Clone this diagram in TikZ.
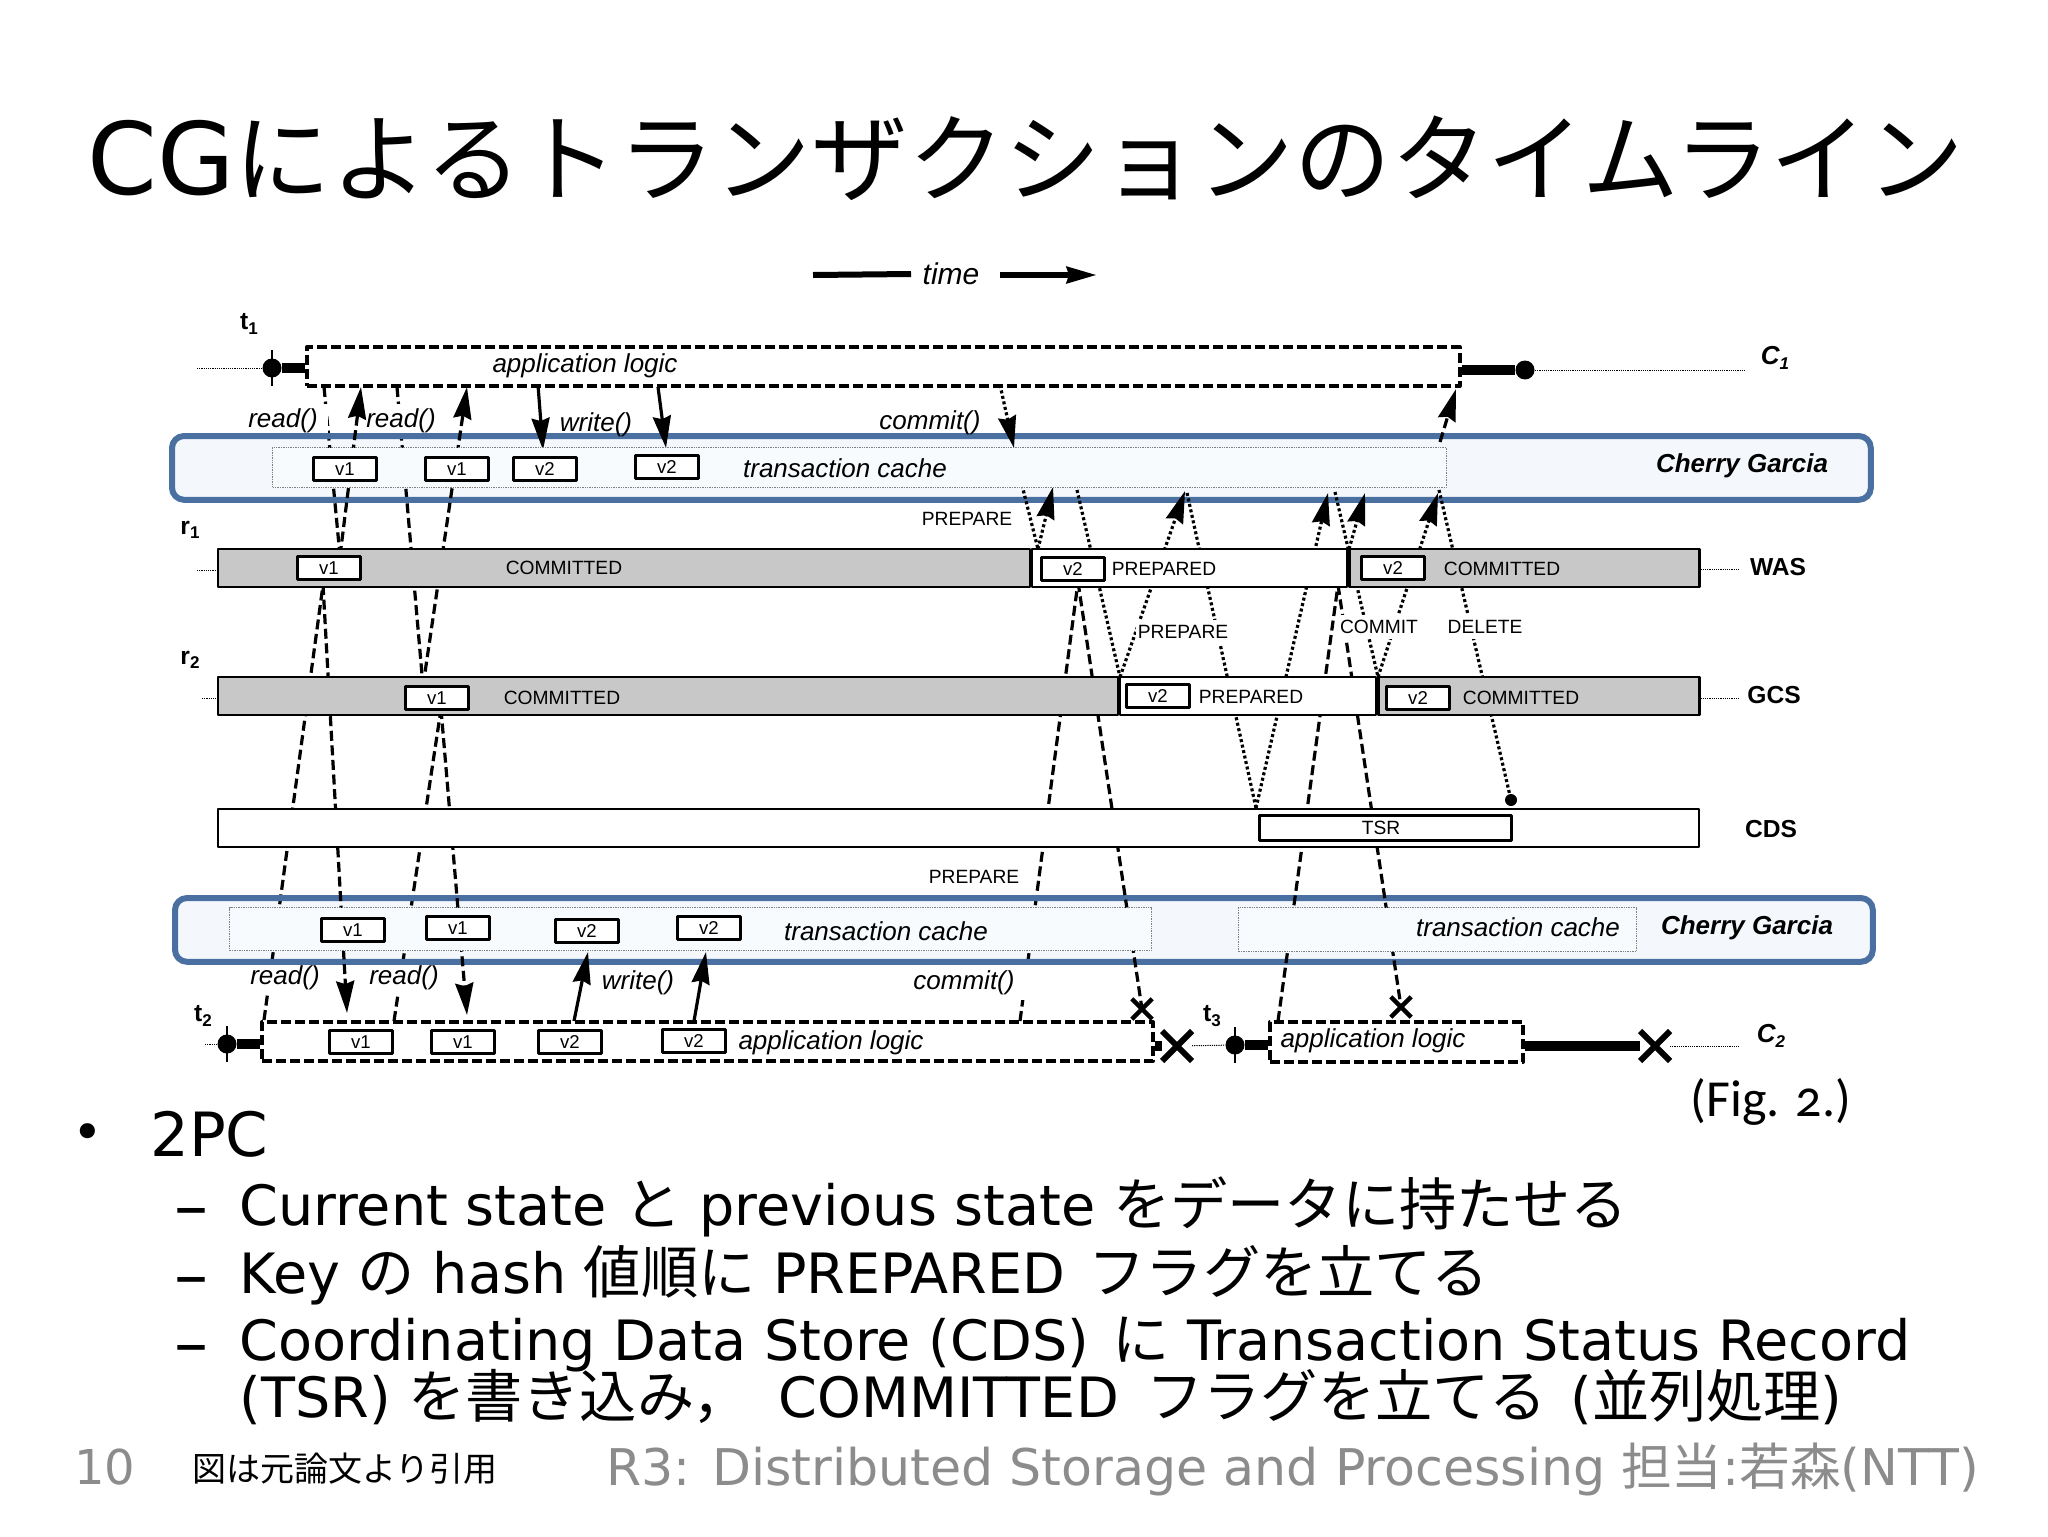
\documentclass[tikz,border=0pt]{standalone}
\usepackage{fontspec}
\usetikzlibrary{arrows.meta,shapes.misc}
\setmainfont{DejaVu Sans}
\newfontfamily\jp{Noto Sans CJK JP}
\newfontfamily\dgm{Liberation Sans}
\newfontfamily\figfont[Numbers=OldStyle]{Carlito}
\definecolor{bandline}{HTML}{4A70A2}
\definecolor{bandfill}{HTML}{F4F8FD}
\definecolor{barfill}{HTML}{C8C8C8}
\definecolor{footgray}{HTML}{8C8C8C}
\newcommand{\fs}[1]{\fontsize{#1}{#1}\selectfont}
\newcommand{\subl}[2]{#1\raisebox{-.35ex}{\fs{8.5}#2}}
\newcommand{\jb}[1]{{\jp\fs{28.6}#1}}
\tikzset{
  small/.style = {font=\dgm\fs{9.6}, inner sep=0pt},
  ital/.style = {font=\dgm\itshape\fs{13}, inner sep=0pt},
  lbl/.style = {font=\dgm\bfseries\fs{12.3}, inner sep=0pt},
  cglbl/.style = {font=\dgm\bfseries\itshape\fs{13}, inner sep=0pt},
  gap/.style = {fill=white, minimum height=17pt},
  vbox/.style = {draw, fill=white, line width=1.1pt, minimum width=31.5pt, minimum height=11.5pt,
    inner sep=0pt, font=\dgm\fs{9.3}},
  barnode/.style = {draw, line width=1.1pt, inner sep=0pt, minimum height=19pt, anchor=west},
  band/.style = {fill=bandfill, inner sep=0pt, anchor=north west, rounded corners=6pt},
  cachebox/.style = {draw=gray, fill=bandfill!60!white, line width=.5pt, dash pattern=on .7pt off .5pt,
    inner sep=0pt, anchor=north west},
  appbox/.style = {draw, line width=2pt, dash pattern=on 5pt off 2pt, inner sep=0pt, anchor=north west},
  msgdash/.style = {line width=1.6pt, dash pattern=on 5pt off 2.3pt},
  msgdot/.style = {line width=1.6pt, dash pattern=on 1.5pt off 1.3pt},
  lifeline/.style = {line width=.5pt, dash pattern=on .6pt off .5pt},
  thickline/.style = {line width=5pt},
  enddot/.style = {circle, fill=black, inner sep=0pt, minimum size=9.5pt},
  bigx/.style = {cross out, draw, line width=3pt, inner sep=0pt, minimum size=12pt},
  smallx/.style = {cross out, draw, line width=2.2pt, inner sep=0pt, minimum size=8pt},
  body/.style = {anchor=west, inner sep=0pt, font=\fs{27.8}}
}
\begin{document}
\begin{tikzpicture}[x=.5pt,y=-.5pt,>={Stealth[length=16pt,width=9pt,inset=1.5pt]},line join=round]
	\useasboundingbox (0,0) rectangle (2048,1536);
	% Titel
	\node [anchor=west, inner sep=0pt, font=\fs{50}] (title) at (87,158) {CG{\jp\fs{48.3}によるトランザクションのタイムライン}};
	% Zeitachse
	\node [font=\dgm\itshape\fs{15}, inner sep=0pt] (timelbl) at (951,274) {time};
	\coordinate (timea) at (813,275);
	\coordinate (timeb) at (1097,275);
	\draw [line width=3pt] (timea) -- (timelbl.west -| 911,275);
	\draw [line width=3pt, -{Stealth[length=15pt,width=8pt,inset=1pt]}] (1000,275) -- (timeb);
	% Baender
	\node [band, minimum width=849pt, minimum height=31.5pt] (cgtop) at (172,436) {};
	\node [band, minimum width=848.5pt, minimum height=31.5pt] (cgbot) at (175,898) {};
	% Nachrichten, die von Labels verdeckt werden
	\coordinate (ronea) at (324,387);
	\coordinate (ronev) at (340,556);
	\coordinate (rtwoa) at (397,387);
	\coordinate (rtwov) at (423,686);
	\coordinate (rthreea) at (264,1020);
	\coordinate (rthreev) at (323,585);
	\coordinate (rfoura) at (394,1021);
	\coordinate (rfourv) at (441,709);
	\coordinate (cmta) at (1020,1021);
	\coordinate (cmtv) at (1078,582);
	\draw [msgdash] (ronea) -- (ronev);
	\draw [msgdash] (rtwoa) -- (rtwov);
	\draw [msgdash] (rthreea) -- (rthreev);
	\draw [msgdash] (rfoura) -- (rfourv);
	\draw [msgdash] (cmta) -- (cmtv);
	\node [ital, gap, minimum width=45pt] (readone) at (283,421) {read()};
	\node [ital, gap] (readtwo) at (401,421) {read()};
	\node [ital, gap] (readthree) at (285,978) {read()};
	\node [ital, gap] (readfour) at (404,978) {read()};
	\node [ital, gap, minimum width=66pt] (commitb) at (964,983) {commit()};
	\draw [line width=3pt, bandline, rounded corners=6pt] (cgtop.north west) rectangle (cgtop.south east);
	\draw [line width=3pt, bandline, rounded corners=6pt] (cgbot.north west) rectangle (cgbot.south east);
	% Leseantworten und Schreiben
	\coordinate (aone) at (361,387);
	\coordinate (atwo) at (467,387);
	\coordinate (athree) at (347,1013);
	\coordinate (afour) at (467,1015);
	\draw [msgdash, ->] (ronev) -- (aone);
	\draw [msgdash, ->] (rtwov) -- (atwo);
	\draw [msgdash, ->] (rthreev) -- (athree);
	\draw [msgdash, ->] (rfourv) -- (afour);
	\coordinate (wonea) at (538,385);
	\coordinate (woneb) at (543,450);
	\coordinate (wtwoa) at (658,387);
	\coordinate (wtwob) at (666,448);
	\coordinate (wthreea) at (574,1021);
	\coordinate (wthreeb) at (588,952);
	\coordinate (wfoura) at (694,1021);
	\coordinate (wfourb) at (706,952);
	\draw [line width=1.6pt, ->] (wonea) -- (woneb);
	\draw [line width=1.6pt, ->] (wtwoa) -- (wtwob);
	\draw [line width=1.6pt, ->] (wthreea) -- (wthreeb);
	\draw [line width=1.6pt, ->] (wfoura) -- (wfourb);
	% Commit und 2PC
	\coordinate (coma) at (1000,385);
	\coordinate (comb) at (1014,448);
	\draw [msgdot, ->] (coma) -- (comb);
	\coordinate (cmtx) at (1142,1009);
	\draw [msgdash] (cmtv) -- (cmtx);
	\coordinate (trda) at (1278,1021);
	\coordinate (trdv) at (1338,585);
	\coordinate (trdx) at (1401,1007);
	\draw [msgdash] (trda) -- (trdv);
	\draw [msgdash] (trdv) -- (trdx);
	\coordinate (endrep) at (1440,442);
	\coordinate (endtop) at (1456,389);
	\draw [msgdash, ->] (endrep) -- (endtop);
	\coordinate (pa) at (1022,485);
	\coordinate (pb) at (1038,549);
	\coordinate (pc) at (1053,487);
	\coordinate (pd) at (1077,490);
	\coordinate (pe) at (1120,677);
	\coordinate (pf) at (1185,491);
	\coordinate (pg) at (1187,493);
	\coordinate (ph) at (1256,808);
	\coordinate (pi) at (1328,493);
	\coordinate (pj) at (1335,492);
	\coordinate (pk) at (1349,549);
	\coordinate (pl) at (1365,493);
	\coordinate (pm) at (1378,677);
	\coordinate (pn) at (1438,493);
	\coordinate (po) at (1439,490);
	\draw [msgdot] (pa) -- (pb);
	\draw [msgdot, ->] (pb) -- (pc);
	\draw [msgdot] (pd) -- (pe);
	\draw [msgdot, ->] (pe) -- (pf);
	\draw [msgdot] (pg) -- (ph);
	\draw [msgdot, ->] (ph) -- (pi);
	\draw [msgdot] (pj) -- (pm);
	\draw [msgdot, ->] (pk) -- (pl);
	\draw [msgdot, ->] (pm) -- (pn);
	\node [enddot, minimum size=6pt] (deldot) at (1511,800) {};
	\draw [msgdot] (po) -- (deldot);
	% Transaction caches
	\node [cachebox, minimum width=587pt, minimum height=20pt] (cacheone) at (272,447) {};
	\node [cachebox, minimum width=461pt, minimum height=21.5pt] (cachetwo) at (229,907) {};
	\node [cachebox, minimum width=199pt, minimum height=22pt] (cachethree) at (1238,907) {};
	\node [ital] (tcone) at (845,468) {transaction cache};
	\node [ital] (tctwo) at (886,931) {transaction cache};
	\node [ital] (tcthree) at (1518,927) {transaction cache};
	\node [cglbl] (cgone) at (1742,466) {Cherry Garcia};
	\node [cglbl] (cgtwo) at (1747,928) {Cherry Garcia};
	\node [vbox] (cone) at (345,469) {v1};
	\node [vbox] (ctwo) at (457,469) {v1};
	\node [vbox] (cthree) at (545,469) {v2};
	\node [vbox] (cfour) at (667,467) {v2};
	\node [vbox] (done) at (353,930) {v1};
	\node [vbox] (dtwo) at (458,928) {v1};
	\node [vbox] (dthree) at (587,931) {v2};
	\node [vbox] (dfour) at (709,928) {v2};
	% Replikate
	\node [barnode, fill=barfill, minimum width=406pt] (wasa) at (217,568) {};
	\node [barnode, fill=white, minimum width=157.5pt] (wasb) at (wasa.east) {};
	\node [barnode, fill=barfill, minimum width=175pt] (wasc) at (wasb.east) {};
	\node [barnode, fill=barfill, minimum width=450pt] (gcsa) at (217,696) {};
	\node [barnode, fill=white, minimum width=128pt] (gcsb) at (gcsa.east) {};
	\node [barnode, fill=barfill, minimum width=160.5pt] (gcsc) at (gcsb.east) {};
	\node [barnode, fill=white, minimum width=740.5pt] (cds) at (217,828) {};
	\node [small] (wastxta) at (564,568) {COMMITTED};
	\node [small] (wastxtb) at (1164,569) {PREPARED};
	\node [small] (wastxtc) at (1502,569) {COMMITTED};
	\node [small] (gcstxta) at (562,698) {COMMITTED};
	\node [small] (gcstxtb) at (1251,697) {PREPARED};
	\node [small] (gcstxtc) at (1521,698) {COMMITTED};
	\node [vbox] (wasone) at (329,568) {v1};
	\node [vbox] (wastwo) at (1073,569) {v2};
	\node [vbox] (wasthree) at (1393,568) {v2};
	\node [vbox] (gcsone) at (437,698) {v1};
	\node [vbox] (gcstwo) at (1158,696) {v2};
	\node [vbox] (gcsthree) at (1418,698) {v2};
	\node [draw, fill=white, line width=1.1pt, inner sep=0pt, minimum width=126pt, minimum height=12.5pt] (tsr) at (1385.5,828) {};
	\node [small] (tsrtxt) at (1381,828) {TSR};
	\node [lbl] (waslbl) at (1778,567) {WAS};
	\node [lbl] (gcslbl) at (1774,695) {GCS};
	\node [lbl] (cdslbl) at (1771,829) {CDS};
	\node [lbl] (rone) at (190,530) {\subl{r}{1}};
	\node [lbl] (rtwo) at (190,660) {\subl{r}{2}};
	\coordinate (wasl) at (197,570);
	\coordinate (gcsl) at (202,698);
	\coordinate (wasr) at (1739,569);
	\coordinate (gcsr) at (1740,698);
	\draw [lifeline] (wasl) -- (wasa.west |- wasl);
	\draw [lifeline] (gcsl) -- (gcsa.west |- gcsl);
	\draw [lifeline] (wasc.east |- wasr) -- (wasr);
	\draw [lifeline] (gcsc.east |- gcsr) -- (gcsr);
	% Transaktion t1
	\node [appbox, minimum width=576.3pt, minimum height=19.5pt] (tonebox) at (305,345) {};
	\node [ital] (apptxtone) at (585,366) {application logic};
	\node [enddot] (tonestart) at (272,368) {};
	\node [enddot] (toneend) at (1525,370) {};
	\coordinate (clnta) at (197,368);
	\coordinate (clntb) at (1745,370);
	\draw [thickline] (tonestart) -- (tonestart -| tonebox.west);
	\draw [thickline] (toneend -| tonebox.east) -- (toneend);
	\draw [line width=.6pt] ([yshift=9pt]tonestart.center) -- ([yshift=-9pt]tonestart.center);
	\draw [lifeline] (clnta) -- (tonestart);
	\draw [lifeline] (toneend) -- (clntb);
	\node [lbl] (tone) at (249,324) {\subl{t}{1}};
	\node [cglbl] (conelbl) at (1775,358) {\subl{C}{1}};
	% Transaktion t2
	\node [appbox, minimum width=445.5pt, minimum height=19.5pt] (ttwobox) at (260,1020) {};
	\node [ital] (apptxttwo) at (831,1043) {application logic};
	\node [enddot] (ttwostart) at (227,1044) {};
	\node [bigx] (ttwoend) at (1177,1046) {};
	\node [smallx] (ttwox) at (cmtx) {};
	\draw [thickline] (ttwostart) -- (ttwostart -| ttwobox.west);
	\draw [thickline] (ttwoend -| ttwobox.east) -- (ttwoend);
	\draw [line width=.6pt] ([yshift=9pt]ttwostart.center) -- ([yshift=-9pt]ttwostart.center);
	\coordinate (clntc) at (205,1044);
	\draw [lifeline] (clntc) -- (ttwostart);
	\node [vbox] (eone) at (361,1042) {v1};
	\node [vbox] (etwo) at (463,1042) {v1};
	\node [vbox] (ethree) at (570,1042) {v2};
	\node [vbox] (efour) at (694,1041) {v2};
	\node [lbl] (ttwo) at (203,1016) {\subl{t}{2}};
	% Transaktion t3
	\node [appbox, minimum width=126.5pt, minimum height=20pt] (tthreebox) at (1268,1020) {};
	\node [ital] (apptxtthree) at (1373,1041) {application logic};
	\node [enddot] (tthreestart) at (1235,1045) {};
	\node [bigx] (tthreeend) at (1655,1046) {};
	\node [smallx] (tthreex) at (trdx) {};
	\draw [thickline] (tthreestart) -- (tthreestart -| tthreebox.west);
	\draw [thickline] (tthreeend -| tthreebox.east) -- (tthreeend);
	\draw [line width=.6pt] ([yshift=9pt]tthreestart.center) -- ([yshift=-9pt]tthreestart.center);
	\draw [lifeline] (ttwoend) -- (tthreestart);
	\coordinate (clntd) at (1739,1046);
	\draw [lifeline] (tthreeend) -- (clntd);
	\node [lbl] (tthree) at (1212,1016) {\subl{t}{3}};
	\node [cglbl] (ctwolbl) at (1771,1036) {\subl{C}{2}};
	% Beschriftungen
	\node [ital] (writeone) at (596,425) {write()};
	\node [ital] (commita) at (930,423) {commit()};
	\node [ital] (writetwo) at (638,983) {write()};
	\node [small] (prepa) at (967,519) {PREPARE};
	\node [small] (prepc) at (974,877) {PREPARE};
	\node [small, fill=white, minimum height=12.5pt, inner xsep=1pt] (prepb) at (1183,632) {PREPARE};
	\node [small, fill=white, minimum height=12pt, inner xsep=1pt] (commitlbl) at (1379,627) {COMMIT};
	\node [small, fill=white, minimum height=12pt, inner xsep=1pt] (deletelbl) at (1485,627) {DELETE};
	\node [font=\figfont\fs{26}, inner sep=0pt] (figlbl) at (1771,1102) {(Fig. 2.)};
	% Text
	\node [body, font=\fs{26}] (bulletone) at (72,1137) {•};
	\node [body, font=\fs{30.5}] (twopc) at (150,1134) {2PC};
	\node [body, font=\fs{34}] (dasha) at (174,1219) {–};
	\node [body, font=\fs{34}] (dashb) at (174,1288) {–};
	\node [body, font=\fs{34}] (dashc) at (174,1356) {–};
	\node [body] (linea) at (239,1207) {Current state \jb{と} previous state \jb{をデータに持たせる}};
	\node [body] (lineb) at (239,1275) {Key \jb{の} hash \jb{値順に} PREPARED\hspace{3pt} \jb{フラグを立てる}};
	\node [body] (linec) at (239,1345) {Coordinating Data Store (CDS)\hspace{3pt} \jb{に} Transaction Status Record};
	\node [body] (lined) at (239,1397) {(TSR) \jb{を書き込み，}\hspace{6pt} COMMITTED\hspace{5pt} \jb{フラグを立てる}\hspace{3pt} (\jb{並列処理})};
	\node [anchor=west, inner sep=0pt, text=footgray, font=\fs{24}] (pagenum) at (74,1467) {10};
	\node [anchor=west, inner sep=0pt, font=\jp\fs{17}] (srcnote) at (192,1469) {図は元論文より引用};
	\node [anchor=west, inner sep=0pt, text=footgray, font=\fs{25.3}] (footer) at (606,1469) {R3: Distributed Storage and Processing {\jp 担当}:{\jp 若森}(NTT)};
\end{tikzpicture}
\end{document}
